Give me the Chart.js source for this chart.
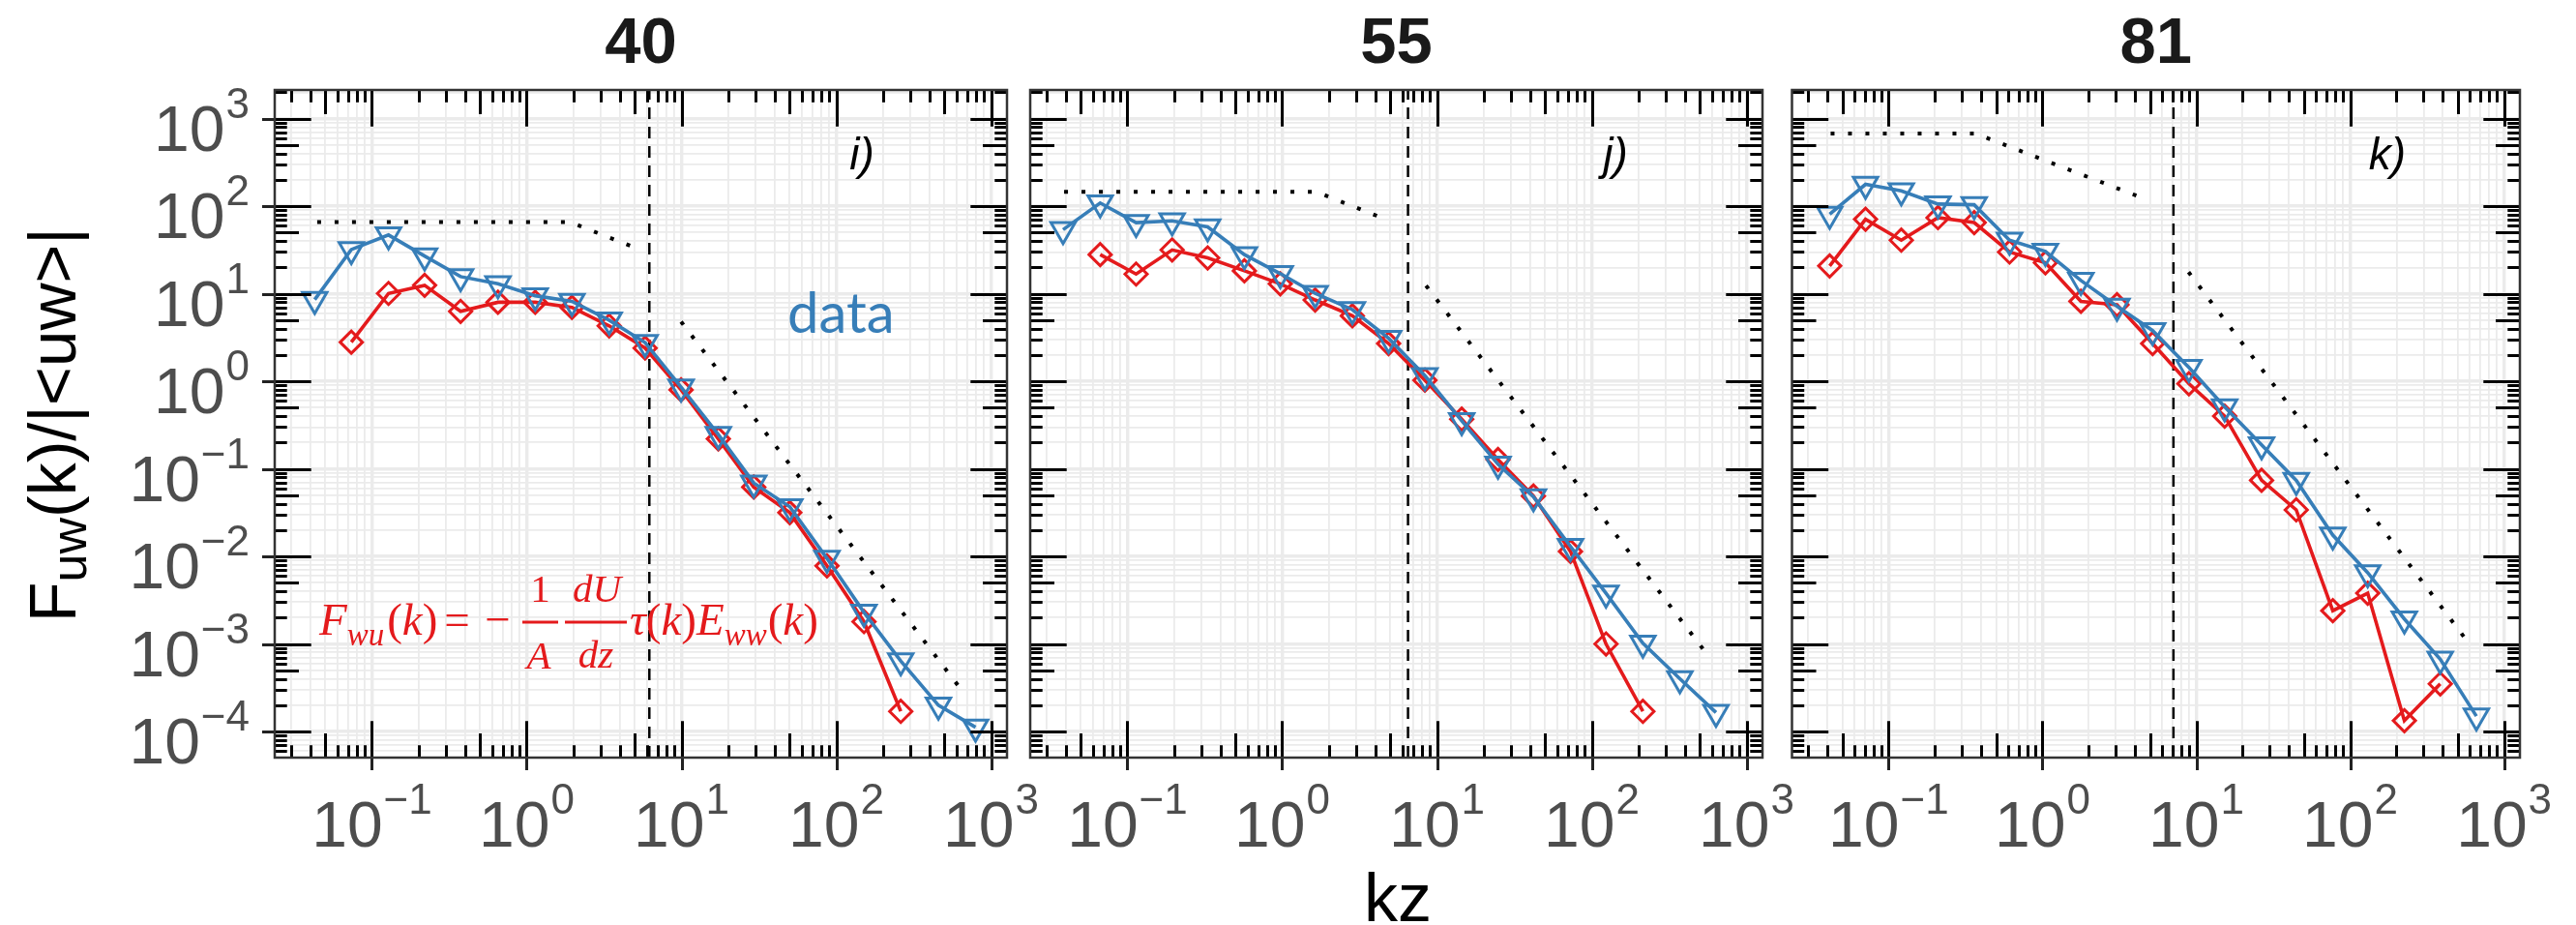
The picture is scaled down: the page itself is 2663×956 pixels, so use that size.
<!DOCTYPE html>
<html>
<head>
<meta charset="utf-8">
<title>Co-spectra F_uw(k) at three heights</title>
<script src="https://cdn.jsdelivr.net/npm/chart.js@4.4.1/dist/chart.umd.min.js"></script>
<style>
  html, body { margin: 0; padding: 0; background: #fff; }
  #wrap { position: relative; width: 2663px; height: 956px; overflow: hidden; background: #fff; }
  #wrap canvas { position: absolute; top: 0; }
</style>
</head>
<body>
<div id="wrap">
  <canvas id="c40" width="1085" height="956" style="left:0px"></canvas>
  <canvas id="c55" width="830" height="956" style="left:1040px"></canvas>
  <canvas id="c81" width="828" height="956" style="left:1835px"></canvas>
</div>
<script>
// ---- data -------------------------------------------------------------
// panel headings (measurement height) and panel tags
const heights = ['40', '55', '81'];
const tags = ['i)', 'j)', 'k)'];

// decade exponents carrying tick labels
const xExp = [-1, 0, 1, 2, 3];
const yExp = [-4, -3, -2, -1, 0, 1, 2, 3];

// height 40: wavenumber kz, measured co-spectrum, model co-spectrum
const k40   = [0.0427, 0.0736, 0.128, 0.219, 0.374, 0.652, 1.135, 1.96, 3.41, 5.82, 9.94, 17.3, 29.3, 50.1, 87.1, 151, 261, 457, 794];
const obs40 = [8.6, 32, 47, 27, 15.7, 13, 9.5, 8.2, 5.0, 2.77, 0.86, 0.247, 0.069, 0.0369, 0.0095, 0.0023, 6.4e-4, 2.0e-4, 1.12e-4];
const mod40 = [null, 2.8, 10.1, 12.5, 6.3, 8.0, 8.0, 7.0, 4.3, 2.4, 0.8, 0.22, 0.062, 0.0316, 0.0078, 0.0018, 1.7e-4, null, null];

// height 55
const k55   = [0.0384, 0.0667, 0.1138, 0.1945, 0.330, 0.570, 0.972, 1.633, 2.84, 4.87, 8.36, 14.45, 24.8, 42.0, 72.9, 123.6, 214, 371, 635];
const obs55 = [54, 109, 65, 68, 58, 28, 17, 10.1, 6.6, 3.1, 1.16, 0.355, 0.113, 0.048, 0.013, 0.0038, 1.02e-3, 4.0e-4, 1.65e-4];
const mod55 = [null, 28, 16.8, 31.7, 25.7, 18.3, 13, 8.5, 5.6, 2.7, 1.03, 0.37, 0.128, 0.049, 0.0114, 1.0e-3, 1.7e-4, null, null];

// height 81
const k81   = [0.0414, 0.0708, 0.1209, 0.2094, 0.360, 0.611, 1.045, 1.778, 3.05, 5.2, 8.95, 15.28, 26.55, 44.6, 77.1, 130, 225, 385, 661];
const obs81 = [81, 178, 150, 106, 104, 41, 30.5, 14.2, 7.2, 3.8, 1.44, 0.51, 0.188, 0.074, 0.0175, 0.0065, 1.93e-3, 6.7e-4, 1.5e-4];
const mod81 = [20.8, 71, 41, 74, 65, 30, 22.6, 8.2, 7.5, 2.7, 0.94, 0.4, 0.074, 0.034, 2.4e-3, 3.8e-3, 1.33e-4, 3.5e-4, null];

// reference slopes (dotted): flat / -2/3 branch and -7/3 branch
const flatK40 = [0.0443, 1.9, 5.0];   const flatF40 = [66, 66, 33.7];
const steepK40 = [9.94, 668];         const steepF40 = [4.8, 2.74e-4];
const flatK55 = [0.039, 1.66, 4.57];  const flatF55 = [146, 146, 72];
const steepK55 = [8.5, 580];          const steepF55 = [12.4, 6.9e-4];
const flatK81 = [0.042, 0.365, 4.5];  const flatF81 = [679, 679, 123.6];
const steepK81 = [8.9, 600];          const steepF81 = [17.7, 9.8e-4];

// cut-off wavenumber (dashed vertical)
const kCut = [6.2, 6.5, 7.1];

// axis limits
const X_MIN = Math.pow(10, -1.628), X_MAX = Math.pow(10, 3.103);
const Y_MIN = Math.pow(10, -4.298), Y_MAX = Math.pow(10, 3.328);

// ---- styling ----------------------------------------------------------
const BLUE = '#377EB8', RED = '#E41A1C';
const SANS = '"Liberation Sans", Arial, sans-serif';
const SERIF = '"Liberation Serif", "Times New Roman", serif';
const TICK_MAIN = '66px ' + SANS, TICK_SUP = '44px ' + SANS, SUP_RISE = 34;
const LEN_LONG = 37.7, LEN_MID = 25, LEN_SHORT = 12.7;

// page geometry of the three panels
const panelLeft = [284, 1065, 1848], panelRight = [1041, 1822, 2605];
const canvasLeft = [0, 1040, 1835];
const PANEL_TOP = 93, PANEL_BOTTOM = 783, PAGE_H = 956;

function logValues(min, max) {
  const out = [];
  for (let e = Math.floor(Math.log10(min)); e <= Math.ceil(Math.log10(max)); e++) {
    for (let m = 1; m <= 9; m++) {
      const v = m * Math.pow(10, e);
      if (v >= min * 0.99999 && v <= max * 1.00001) out.push({ v, m });
    }
  }
  return out;
}

function pairs(xs, ys) {
  return xs.map((x, i) => ({ x, y: ys[i] }));
}

function pow10Label(ctx, e, x, base, align) {
  const sup = e < 0 ? '\u2212' + (-e) : String(e);
  ctx.font = TICK_MAIN; const wm = ctx.measureText('10').width;
  ctx.font = TICK_SUP; const ws = ctx.measureText(sup).width;
  const gap = 1;
  const total = wm + gap + ws;
  const x0 = align === 'right' ? x - total : x - total / 2;
  ctx.textAlign = 'left';
  ctx.font = TICK_MAIN; ctx.fillText('10', x0, base);
  ctx.font = TICK_SUP; ctx.fillText(sup, x0 + wm + gap, base - SUP_RISE);
}

// formula for the model curve, set like LaTeX
function drawFormula(ctx) {
  const B = 656;
  const it = s => 'italic ' + s + 'px ' + SERIF;
  const up = s => s + 'px ' + SERIF;
  ctx.fillStyle = RED;
  ctx.textAlign = 'left';
  let x = 330;
  const put = (t, f, dy = 0) => { ctx.font = f; ctx.fillText(t, x, B + dy); x += ctx.measureText(t).width; };
  put('F', it(47)); put('wu', it(33), 11);
  x += 3; put('(', up(47)); put('k', it(47)); put(')', up(47));
  ctx.textAlign = 'center';
  ctx.font = up(47); ctx.fillText('=', 472.5, B);
  ctx.fillText('\u2212', 514.5, B);
  // fractions
  ctx.fillRect(540, 641.5, 37, 3);
  ctx.fillRect(584, 641.5, 64, 3);
  ctx.font = up(41); ctx.fillText('1', 558.5, 622);
  ctx.font = it(41); ctx.fillText('A', 557, 691);
  ctx.fillText('dU', 617, 622);
  ctx.fillText('dz', 616, 690);
  ctx.textAlign = 'left';
  x = 651;
  put('\u03C4', it(47)); put('(', up(47)); put('k', it(47)); put(')', up(47));
  put('E', it(47)); put('ww', it(33), 11);
  x += 1; put('(', up(47)); put('k', it(47)); put(')', up(47));
}

function drawYTitle(ctx) {
  ctx.save();
  ctx.translate(78, 439);
  ctx.rotate(-Math.PI / 2);
  ctx.fillStyle = '#000';
  ctx.textAlign = 'left';
  const big = '68px ' + SANS, small = '52px ' + SANS;
  const parts = [['F', big, 0], ['uw', small, 11], ['(k)/|<uw>|', big, 0]];
  let total = 0;
  parts.forEach(p => { ctx.font = p[1]; total += ctx.measureText(p[0]).width; });
  let x = -total / 2;
  parts.forEach(p => { ctx.font = p[1]; ctx.fillText(p[0], x, p[2]); x += ctx.measureText(p[0]).width; });
  ctx.restore();
}

// frame, log ticks, tick labels and panel texts
const panelDecor = {
  id: 'panelDecor',
  afterDatasetsDraw(chart, args, o) {
    const { ctx, chartArea: a } = chart;
    const xs = chart.scales.x, ys = chart.scales.y;
    ctx.save();

    // log ticks on all four sides
    ctx.strokeStyle = '#000';
    ctx.lineWidth = 3;
    ctx.lineCap = 'butt';
    ctx.beginPath();
    logValues(xs.min, xs.max).forEach(t => {
      const px = Math.round(xs.getPixelForValue(t.v)) + 0.5;
      const len = t.m === 1 ? LEN_LONG : (t.m === 5 ? LEN_MID : LEN_SHORT);
      ctx.moveTo(px, a.bottom); ctx.lineTo(px, a.bottom - len);
      ctx.moveTo(px, a.top); ctx.lineTo(px, a.top + len);
    });
    logValues(ys.min, ys.max).forEach(t => {
      const py = Math.round(ys.getPixelForValue(t.v)) + 0.5;
      const len = t.m === 1 ? LEN_LONG : (t.m === 5 ? LEN_MID : LEN_SHORT);
      ctx.moveTo(a.left, py); ctx.lineTo(a.left + len, py);
      ctx.moveTo(a.right, py); ctx.lineTo(a.right - len, py);
    });
    ctx.stroke();

    // axis ticks outside the panel
    ctx.strokeStyle = '#222';
    ctx.beginPath();
    xExp.forEach(e => {
      const px = Math.round(xs.getPixelForValue(Math.pow(10, e))) + 0.5;
      ctx.moveTo(px, a.bottom); ctx.lineTo(px, a.bottom + 13);
    });
    if (o.yLabels) {
      yExp.forEach(e => {
        const py = Math.round(ys.getPixelForValue(Math.pow(10, e))) + 0.5;
        ctx.moveTo(a.left - 13, py); ctx.lineTo(a.left, py);
      });
    }
    ctx.stroke();

    // panel border
    ctx.strokeStyle = '#333';
    ctx.lineWidth = 2.5;
    ctx.strokeRect(a.left, a.top, a.right - a.left, a.bottom - a.top);

    // tick labels
    ctx.fillStyle = '#4D4D4D';
    ctx.textBaseline = 'alphabetic';
    xExp.forEach(e => pow10Label(ctx, e, xs.getPixelForValue(Math.pow(10, e)), a.bottom + 92, 'center'));
    if (o.yLabels) {
      yExp.forEach(e => pow10Label(ctx, e, a.left - 26, ys.getPixelForValue(Math.pow(10, e)) + 33, 'right'));
    }

    // heading
    ctx.fillStyle = '#1A1A1A';
    ctx.font = 'bold 67px ' + SANS;
    ctx.textAlign = 'center';
    ctx.fillText(o.heading, (a.left + a.right) / 2, 65);

    // panel tag
    ctx.fillStyle = '#000';
    ctx.font = 'italic 46px ' + SANS;
    ctx.fillText(o.tag, a.right - o.tagInset, 175);

    if (o.extra) o.extra(ctx, chart);
    ctx.restore();
  }
};

function makePanel(i, k, obs, mod, flatK, flatF, steepK, steepF) {
  const cv = document.getElementById('c' + heights[i]);
  const L = panelLeft[i] - canvasLeft[i];
  const R = cv.width - (panelRight[i] - canvasLeft[i]);
  const gridWidth = c => (c.tick && c.tick.major ? 3.4 : 1.8);
  const buildGrid = s => { s.ticks = logValues(s.min, s.max).map(t => ({ value: t.v, major: t.m === 1 })); };

  return new Chart(cv, {
    type: 'line',
    data: {
      datasets: [
        {
          label: 'data', data: pairs(k, obs), order: 1,
          borderColor: BLUE, borderWidth: 3.6, tension: 0,
          pointStyle: 'triangle', pointRotation: 180, pointRadius: 14.5,
          pointBorderWidth: 3, pointBorderColor: BLUE, pointBackgroundColor: 'rgba(0,0,0,0)'
        },
        {
          label: 'model', data: pairs(k, mod), order: 2,
          borderColor: RED, borderWidth: 3.6, tension: 0,
          pointStyle: 'rectRot', pointRadius: 11.5,
          pointBorderWidth: 3, pointBorderColor: RED, pointBackgroundColor: 'rgba(0,0,0,0)'
        },
        {
          label: 'flat', data: pairs(flatK, flatF), order: 3,
          borderColor: '#000', borderWidth: 4, borderDash: [4, 14], borderCapStyle: 'butt',
          pointRadius: 0, tension: 0
        },
        {
          label: 'steep', data: pairs(steepK, steepF), order: 3,
          borderColor: '#000', borderWidth: 4, borderDash: [4, 14], borderCapStyle: 'butt',
          pointRadius: 0, tension: 0
        },
        {
          label: 'cut', data: [{ x: kCut[i], y: Y_MIN }, { x: kCut[i], y: Y_MAX }], order: 4,
          borderColor: '#000', borderWidth: 2.5, borderDash: [12, 8],
          pointRadius: 0, tension: 0
        }
      ]
    },
    options: {
      responsive: false, animation: false, devicePixelRatio: 1, events: [],
      layout: { padding: { left: L, right: R, top: PANEL_TOP, bottom: PAGE_H - PANEL_BOTTOM } },
      plugins: {
        legend: { display: false }, tooltip: { enabled: false },
        panelDecor: {
          heading: heights[i], tag: tags[i], tagInset: [150, 152, 137][i],
          yLabels: i === 0,
          extra: i === 0 ? (ctx) => {
            ctx.fillStyle = BLUE;
            ctx.font = '58px Lato, ' + SANS;
            ctx.textAlign = 'left';
            ctx.fillText('data', 814, 344);
            drawFormula(ctx);
            drawYTitle(ctx);
          } : i === 1 ? (ctx) => {
            ctx.fillStyle = '#000';
            ctx.font = '70px ' + SANS;
            ctx.textAlign = 'center';
            ctx.fillText('kz', 1445 - canvasLeft[1], 952);
          } : null
        }
      },
      scales: {
        x: {
          type: 'logarithmic', min: X_MIN, max: X_MAX,
          afterBuildTicks: buildGrid,
          ticks: { display: false },
          grid: { color: '#EBEBEB', lineWidth: gridWidth, drawTicks: false },
          border: { display: false }
        },
        y: {
          type: 'logarithmic', min: Y_MIN, max: Y_MAX,
          afterBuildTicks: buildGrid,
          ticks: { display: false },
          grid: { color: '#EBEBEB', lineWidth: gridWidth, drawTicks: false },
          border: { display: false }
        }
      }
    },
    plugins: [panelDecor]
  });
}

makePanel(0, k40, obs40, mod40, flatK40, flatF40, steepK40, steepF40);
makePanel(1, k55, obs55, mod55, flatK55, flatF55, steepK55, steepF55);
makePanel(2, k81, obs81, mod81, flatK81, flatF81, steepK81, steepF81);
</script>
</body>
</html>
